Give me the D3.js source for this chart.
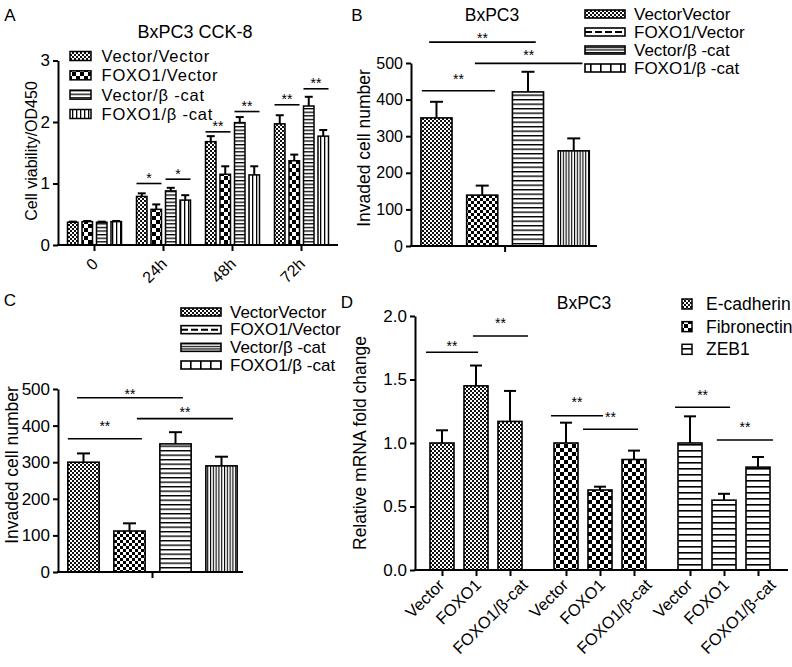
<!DOCTYPE html>
<html><head><meta charset="utf-8">
<script src="https://cdn.jsdelivr.net/npm/d3@7"></script>
<style>body{margin:0;background:#fff} text{font-family:Arial,"Liberation Sans",sans-serif;fill:#000}</style>
</head><body><svg id="c" width="792" height="667"></svg>
<script>
// ---------------- DATA ----------------
const groupsA = ["0", "24h", "48h", "72h"];
const seriesA = ["Vector/Vector", "FOXO1/Vector", "Vector/β -cat", "FOXO1/β -cat"];
const valuesA = [
  [0.37, 0.79, 1.68, 1.97],
  [0.38, 0.58, 1.15, 1.37],
  [0.37, 0.88, 1.99, 2.26],
  [0.38, 0.73, 1.14, 1.77]
];
const errorsA = [
  [0.01, 0.05, 0.09, 0.14],
  [0.01, 0.08, 0.13, 0.10],
  [0.01, 0.05, 0.09, 0.15],
  [0.01, 0.08, 0.14, 0.10]
];
const ticksA = [0, 1, 2, 3];
const sigA = [
  {g: 1, from: 0, to: 1, y: 1.00, label: "*"},
  {g: 1, from: 2, to: 3, y: 1.07, label: "*"},
  {g: 2, from: 0, to: 1, y: 1.84, label: "**"},
  {g: 2, from: 2, to: 3, y: 2.17, label: "**"},
  {g: 3, from: 0, to: 1, y: 2.28, label: "**"},
  {g: 3, from: 2, to: 3, y: 2.54, label: "**"}
];

const catsB = ["VectorVector", "FOXO1/Vector", "Vector/β -cat", "FOXO1/β -cat"];
const valuesB = [350, 139, 421, 260];
const errorsB = [44, 26, 55, 34];
const ticksB = [0, 100, 200, 300, 400, 500];
const sigB = [
  {x1: -0.16, x2: 2.17, y: 557, ty: 576, label: "**"},
  {x1: 0.84, x2: 3.19, y: 499, ty: 530, label: "**"},
  {x1: -0.32, x2: 1.28, y: 424, ty: 464, label: "**"}
];

const catsC = ["VectorVector", "FOXO1/Vector", "Vector/β -cat", "FOXO1/β -cat"];
const valuesC = [300, 112, 350, 290];
const errorsC = [24, 21, 32, 25];
const ticksC = [0, 100, 200, 300, 400, 500];
const sigC = [
  {x1: -0.14, x2: 2.16, y: 476, ty: 494, label: "**"},
  {x1: 1.16, x2: 3.25, y: 419, ty: 443, label: "**"},
  {x1: -0.34, x2: 1.27, y: 364, ty: 407, label: "**"}
];

const groupsD = ["E-cadherin", "Fibronectin", "ZEB1"];
const condsD = ["Vector", "FOXO1", "FOXO1/β-cat"];
const valuesD = [
  [1.00, 1.45, 1.17],
  [1.00, 0.63, 0.87],
  [1.00, 0.55, 0.81]
];
const errorsD = [
  [0.10, 0.16, 0.24],
  [0.16, 0.026, 0.07],
  [0.21, 0.05, 0.08]
];
const ticksD = [0, 0.5, 1.0, 1.5, 2.0];
const sigD = [
  {g: 0, x1: -0.47, x2: 1.06, y: 1.714, ty: 1.78, label: "**"},
  {g: 0, x1: 0.91, x2: 2.53, y: 1.843, ty: 1.965, label: "**"},
  {g: 1, x1: -0.44, x2: 1.09, y: 1.215, ty: 1.339, label: "**"},
  {g: 1, x1: 0.50, x2: 2.12, y: 1.108, ty: 1.228, label: "**"},
  {g: 2, x1: -0.44, x2: 1.18, y: 1.281, ty: 1.40, label: "**"},
  {g: 2, x1: 0.79, x2: 2.44, y: 1.024, ty: 1.142, label: "**"}
];

// ---------------- SETUP ----------------
const svg = d3.select("#c");
const defs = svg.append("defs");
const FS = 16;
function pat(id, w, h, fn) {
  const p = defs.append("pattern").attr("id", id).attr("patternUnits", "userSpaceOnUse")
    .attr("width", w).attr("height", h);
  p.append("rect").attr("width", w).attr("height", h).attr("fill", "#fff");
  fn(p, w, h);
}
pat("pFine", 4, 4, p => {
  p.append("rect").attr("x", 0).attr("y", 0).attr("width", 2).attr("height", 2).attr("fill", "#111");
  p.append("rect").attr("x", 2).attr("y", 2).attr("width", 2).attr("height", 2).attr("fill", "#111");
});
pat("pChk4", 8, 8, p => {
  p.append("rect").attr("x", 0).attr("y", 0).attr("width", 4).attr("height", 4).attr("fill", "#000");
  p.append("rect").attr("x", 4).attr("y", 4).attr("width", 4).attr("height", 4).attr("fill", "#000");
});
pat("pChk3", 6, 6, p => {
  p.append("rect").attr("x", 0).attr("y", 0).attr("width", 3).attr("height", 3).attr("fill", "#000");
  p.append("rect").attr("x", 3).attr("y", 3).attr("width", 3).attr("height", 3).attr("fill", "#000");
});
function hp(id, s, t) { pat(id, 8, s, p => p.append("rect").attr("x", 0).attr("y", 0).attr("width", 8).attr("height", t).attr("fill", "#000")); }
function vp(id, s, t) { pat(id, s, 8, p => p.append("rect").attr("x", 0).attr("y", 0).attr("width", t).attr("height", 8).attr("fill", "#000")); }
hp("pH35", 3.6, 1.3); hp("pH45", 4.5, 1.4); hp("pH6", 6, 1.6); hp("pH25", 2.6, 1.2);
vp("pV4", 4, 1.3); vp("pV3", 2.8, 1.1); vp("pV10", 10, 1.6);

function txt(g, x, y, s, opts = {}) {
  return g.append("text").attr("x", x).attr("y", y).attr("font-size", opts.fs || FS)
    .attr("text-anchor", opts.anchor || "middle").attr("dominant-baseline", opts.base || "central").text(s);
}
function styleAxis(g) {
  g.selectAll("path,line").attr("stroke", "#000").attr("stroke-width", 2);
  g.selectAll("text").attr("font-size", FS).attr("fill", "#000").style("font-family", "Arial,'Liberation Sans',sans-serif");
}
function errBar(g, cx, yTop, yErr, cap) {
  g.append("line").attr("x1", cx).attr("x2", cx).attr("y1", yTop).attr("y2", yErr).attr("stroke", "#000").attr("stroke-width", 2);
  g.append("line").attr("x1", cx - cap / 2).attr("x2", cx + cap / 2).attr("y1", yErr).attr("y2", yErr).attr("stroke", "#000").attr("stroke-width", 2);
}
function sig(g, x1, x2, y, ty, label) {
  g.append("line").attr("x1", x1).attr("x2", x2).attr("y1", y).attr("y2", y).attr("stroke", "#000").attr("stroke-width", 1.6);
  g.append("text").attr("x", (x1 + x2) / 2).attr("y", ty + 7.5).attr("font-size", 14).attr("text-anchor", "middle").text(label);
}

// panel letters
txt(svg, 10, 15, "A", {fs: 17}); txt(svg, 357, 15, "B", {fs: 17}); txt(svg, 10, 300, "C", {fs: 17}); txt(svg, 347, 302, "D", {fs: 17});

// ---------------- PANEL A ----------------
{
  const g = svg.append("g");
  const x = d3.scaleBand().domain(groupsA).range([60, 336]);
  const xi = d3.scaleBand().domain(seriesA).range([-27, 27]).paddingInner(0.276);
  const y = d3.scaleLinear().domain([0, 3]).range([245, 60.5]);
  const fills = ["pFine", "pChk4", "pH35", "pV4"];
  const cx = (gi, si) => x(groupsA[gi]) + x.bandwidth() / 2 + xi(seriesA[si]) + xi.bandwidth() / 2;
  seriesA.forEach((s, si) => {
    groupsA.forEach((gr, gi) => {
      const v = valuesA[si][gi];
      g.append("rect").attr("x", cx(gi, si) - xi.bandwidth() / 2).attr("y", y(v))
        .attr("width", xi.bandwidth()).attr("height", y(0) - y(v))
        .attr("fill", `url(#${fills[si]})`).attr("stroke", "#000").attr("stroke-width", 1.5);
      errBar(g, cx(gi, si), y(v), y(v + errorsA[si][gi]), 8);
    });
  });
  sigA.forEach(d => {
    const x1 = cx(d.g, d.from) - xi.bandwidth() / 2, x2 = cx(d.g, d.to) + xi.bandwidth() / 2;
    sig(g, x1, x2, y(d.y), y(d.y) - 8, d.label);
  });
  const ya = g.append("g").attr("transform", "translate(58,0)")
    .call(d3.axisLeft(y).tickValues(ticksA).tickSize(5).tickSizeOuter(0).tickFormat(d3.format("d")));
  styleAxis(ya);
  ya.selectAll("text").attr("font-size", 17);
  g.append("line").attr("x1", 57).attr("x2", 338).attr("y1", 245).attr("y2", 245).attr("stroke", "#000").attr("stroke-width", 2);
  const xa = g.append("g").attr("transform", "translate(0,245)").call(d3.axisBottom(x).tickSize(6).tickSizeOuter(0));
  xa.select(".domain").remove();
  styleAxis(xa);
  xa.selectAll("text").attr("font-size", 16).attr("x", 0).attr("y", 0).attr("dy", 0)
    .attr("transform", "translate(4.5,20) rotate(-45)").attr("text-anchor", "end");
  txt(g, 195, 32, "BxPC3 CCK-8", {fs: 18});
  g.append("text").attr("transform", "translate(31.7,151) rotate(-90)").attr("font-size", 16)
    .attr("text-anchor", "middle").attr("dominant-baseline", "central").text("Cell viability/OD450");
  const ly = d3.scaleLinear().domain([0, 3]).range([56, 114]);
  seriesA.forEach((s, i) => {
    g.append("rect").attr("x", 70).attr("y", ly(i) - 4.5).attr("width", 21).attr("height", 9)
      .attr("fill", `url(#${fills[i]})`).attr("stroke", "#000").attr("stroke-width", 1.5);
    txt(g, 101.5, ly(i), s, {anchor: "start", fs: 16.5}).attr("letter-spacing", 0.8);
  });
}

// ------------- PANELS B & C -------------
function invasion(cats, values, errors, ticks, sigs, geo) {
  const g = svg.append("g");
  const x = d3.scaleBand().domain(cats).range(geo.xr);
  const bw = x.bandwidth() * 0.68;
  const y = d3.scaleLinear().domain([0, 500]).range(geo.yr);
  const fills = ["pFine", "pChk3", "pH45", "pV3"];
  const cx = i => x(cats[i]) + x.bandwidth() / 2;
  const idx = d3.scaleLinear().domain([0, 1]).range([cx(0), cx(1)]);
  cats.forEach((c, i) => {
    g.append("rect").attr("x", cx(i) - bw / 2).attr("y", y(values[i])).attr("width", bw)
      .attr("height", y(0) - y(values[i])).attr("fill", `url(#${fills[i]})`)
      .attr("stroke", "#000").attr("stroke-width", 1.6);
    errBar(g, cx(i), y(values[i]), y(values[i] + errors[i]), 13);
  });
  sigs.forEach(d => sig(g, idx(d.x1), idx(d.x2), y(d.y), y(d.ty), d.label));
  const ya = g.append("g").attr("transform", `translate(${geo.ax},0)`)
    .call(d3.axisLeft(y).tickValues(ticks).tickSize(5).tickSizeOuter(0));
  styleAxis(ya);
  ya.selectAll("text").attr("font-size", geo.tfs);
  g.append("line").attr("x1", geo.ax - 1).attr("x2", geo.xEnd).attr("y1", y(0)).attr("y2", y(0)).attr("stroke", "#000").attr("stroke-width", 2);
  const one = d3.scaleBand().domain(["all"]).range(geo.xr);
  const xa = g.append("g").attr("transform", `translate(0,${y(0)})`)
    .call(d3.axisBottom(one).tickSize(6).tickFormat(""));
  xa.select(".domain").remove();
  styleAxis(xa);
  g.append("text").attr("transform", `translate(${geo.lx},${geo.ly}) rotate(-90)`).attr("font-size", 17.5)
    .attr("text-anchor", "middle").attr("dominant-baseline", "central").text("Invaded cell number");
  if (geo.title) txt(g, geo.title[0], geo.title[1], "BxPC3", {fs: 17.5});
  // legend
  const ly = d3.scaleLinear().domain([0, 3]).range(geo.legY);
  cats.forEach((c, i) => {
    const lx = geo.legX, yy = ly(i) - 4, w = 40, h = 8;
    const r = g.append("rect").attr("x", lx).attr("y", yy).attr("width", w).attr("height", h)
      .attr("stroke", "#000").attr("stroke-width", 1.6);
    if (i === 0) r.attr("fill", "url(#pFine)");
    if (i === 1) {
      r.attr("fill", "#fff");
      g.append("line").attr("x1", lx).attr("x2", lx + w).attr("y1", yy + h / 2).attr("y2", yy + h / 2)
        .attr("stroke", "#000").attr("stroke-width", 2).attr("stroke-dasharray", "7,3");
    }
    if (i === 2) r.attr("fill", "url(#pH25)");
    if (i === 3) r.attr("fill", "url(#pV10)");
    txt(g, lx + 49, ly(i), c, {anchor: "start", fs: 17});
  });
}
invasion(catsB, valuesB, errorsB, ticksB, sigB,
  {xr: [413.6, 596.6], yr: [246, 63], ax: 411, xEnd: 597, lx: 364, ly: 148, title: [492, 15], legX: 585, legY: [14, 68], tfs: 16});
invasion(catsC, valuesC, errorsC, ticksC, sigC,
  {xr: [60.5, 244.5], yr: [572, 389], ax: 58, xEnd: 243, lx: 12, ly: 465, title: null, legX: 181, legY: [312, 365], tfs: 17});

// ---------------- PANEL D ----------------
{
  const g = svg.append("g");
  const x = d3.scaleBand().domain(groupsD).range([414, 786]);
  const xi = d3.scaleBand().domain(condsD).range([-51, 51]);
  const bw = 24;
  const y = d3.scaleLinear().domain([0, 2]).range([570, 316]);
  const fills = ["pFine", "pChk4", "pH6"];
  const cx = (gi, ci) => x(groupsD[gi]) + x.bandwidth() / 2 + xi(condsD[ci]) + xi.bandwidth() / 2;
  groupsD.forEach((gr, gi) => {
    condsD.forEach((c, ci) => {
      const v = valuesD[gi][ci];
      g.append("rect").attr("x", cx(gi, ci) - bw / 2).attr("y", y(v)).attr("width", bw)
        .attr("height", y(0) - y(v)).attr("fill", `url(#${fills[gi]})`)
        .attr("stroke", "#000").attr("stroke-width", 1.6);
      errBar(g, cx(gi, ci), y(v), y(v + errorsD[gi][ci]), 12);
    });
  });
  sigD.forEach(d => {
    const idx = d3.scaleLinear().domain([0, 1]).range([cx(d.g, 0), cx(d.g, 1)]);
    sig(g, idx(d.x1), idx(d.x2), y(d.y), y(d.ty), d.label);
  });
  const ya = g.append("g").attr("transform", "translate(415,0)")
    .call(d3.axisLeft(y).tickValues(ticksD).tickSize(5).tickSizeOuter(0).tickFormat(d3.format(".1f")));
  styleAxis(ya);
  ya.selectAll("text").attr("font-size", 17);
  g.append("line").attr("x1", 414).attr("x2", 788).attr("y1", 570).attr("y2", 570).attr("stroke", "#000").attr("stroke-width", 2);
  const pos = [], labs = [];
  groupsD.forEach((gr, gi) => condsD.forEach((c, ci) => { pos.push(gi + "|" + ci); labs.push(c); }));
  const xt = d3.scaleOrdinal().domain(pos).range(pos.map(p => { const [a, b] = p.split("|").map(Number); return cx(a, b); }));
  const xa = g.append("g").attr("transform", "translate(0,570)")
    .call(d3.axisBottom(xt).tickSize(6).tickFormat((p, i) => labs[i]));
  xa.select(".domain").remove();
  styleAxis(xa);
  xa.selectAll("text").attr("font-size", 16.5).attr("x", 0).attr("y", 0).attr("dy", 0)
    .attr("text-anchor", "end")
    .attr("transform", function() {
      const L = this.getComputedTextLength();
      const dx = 3 + (L - 47) * 0.3;
      return `translate(${dx},16) rotate(-45)`;
    });
  txt(g, 584, 303, "BxPC3", {fs: 17.5});
  g.append("text").attr("transform", "translate(360,443) rotate(-90)").attr("font-size", 17.5)
    .attr("text-anchor", "middle").attr("dominant-baseline", "central").text("Relative mRNA fold change");
  const ly = d3.scaleLinear().domain([0, 2]).range([304, 349.3]);
  groupsD.forEach((s, i) => {
    g.append("rect").attr("x", 682).attr("y", ly(i) - 5).attr("width", 10).attr("height", 10)
      .attr("fill", `url(#${fills[i]})`).attr("stroke", "#000").attr("stroke-width", 1.5);
    txt(g, 706, ly(i), s, {anchor: "start", fs: 17.5});
  });
}
</script></body></html>
